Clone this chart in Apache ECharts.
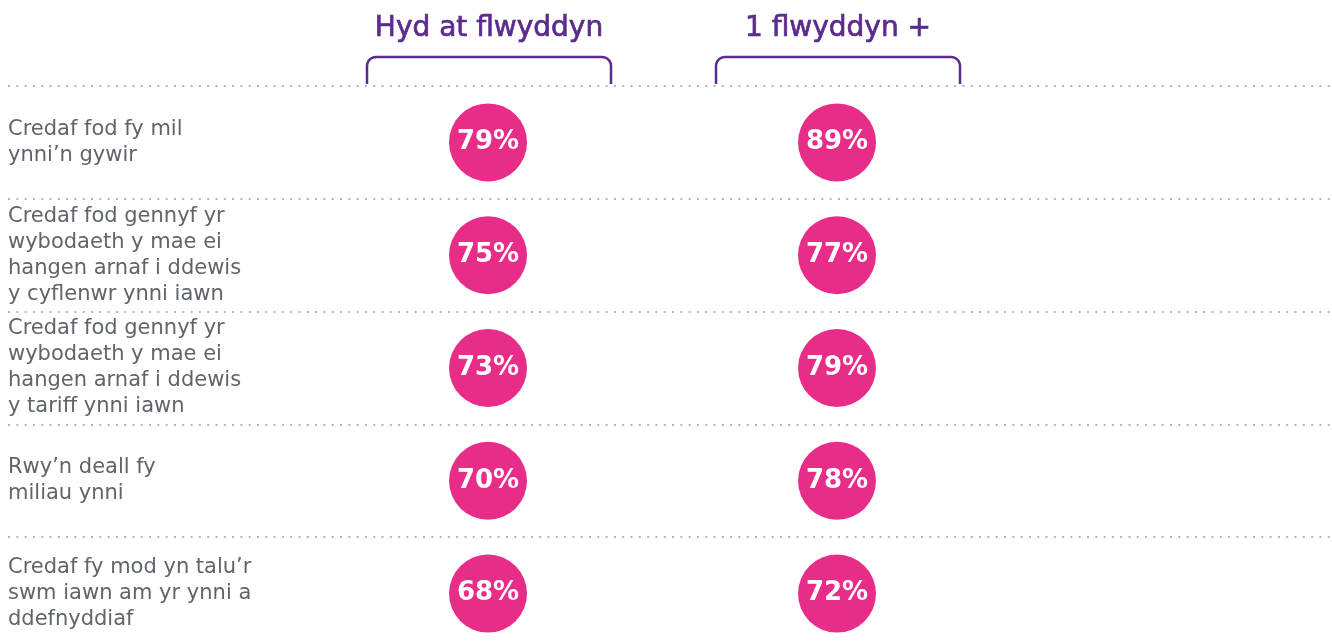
<!DOCTYPE html>
<html>
<head>
<meta charset="utf-8">
<script src="https://cdn.jsdelivr.net/npm/echarts@6/dist/echarts.min.js"></script>
<style>
html,body{margin:0;padding:0;background:#fff;overflow:hidden;}
#chart{width:1332px;height:650px;}
</style>
</head>
<body>
<div id="chart"></div>
<script>
const rowLabels = [
  "Credaf fod fy mil\nynni\u2019n gywir",
  "Credaf fod gennyf yr\nwybodaeth y mae ei\nhangen arnaf i ddewis\ny cyflenwr ynni iawn",
  "Credaf fod gennyf yr\nwybodaeth y mae ei\nhangen arnaf i ddewis\ny tariff ynni iawn",
  "Rwy\u2019n deall fy\nmiliau ynni",
  "Credaf fy mod yn talu\u2019r\nswm iawn am yr ynni a\nddefnyddiaf"
];
const columns = ["Hyd at flwyddyn", "1 flwyddyn +"];
const upToOneYear = [79, 75, 73, 70, 68];
const oneYearPlus = [89, 77, 79, 78, 72];
const seriesValues = [upToOneYear, oneYearPlus];

const PINK = '#E72D87';
const PURPLE = '#5B2B8E';

const chart = echarts.init(document.getElementById('chart'), null, {renderer: 'canvas'});

const option = {
  animation: false,
  backgroundColor: '#ffffff',
  grid: {left: 8, right: 0, top: 86, bottom: 0, containLabel: false},
  xAxis: {
    type: 'value', min: -1.3754, max: 2.4183, show: false
  },
  yAxis: {
    type: 'category', data: rowLabels, inverse: true,
    axisLine: {show: false}, axisTick: {show: false},
    axisLabel: {
      inside: true, margin: 0, align: 'left', interval: 0,
      color: '#5f656b', fontSize: 21, lineHeight: 26,
      fontFamily: 'DejaVu Sans'
    },
    splitLine: {
      show: true, interval: 0,
      lineStyle: {color: '#b4b4b4', width: 2, type: [2, 6.3]}
    }
  },
  series: seriesValues.map((vals, i) => ({
    type: 'scatter',
    name: columns[i],
    symbol: 'circle',
    symbolSize: 78,
    itemStyle: {color: PINK, opacity: 1},
    label: {
      show: true, position: 'inside',
      formatter: p => p.value[2] + '%',
      color: '#ffffff', fontSize: 26, fontWeight: 'bold',
      fontFamily: 'DejaVu Sans'
    },
    data: vals.map((v, j) => [i, rowLabels[j], v])
  }))
};
chart.setOption(option);

function bracketPoints(cx, hw, top, bottom, r) {
  const pts = [[cx - hw, bottom], [cx - hw, top + r]];
  for (let k = 1; k < 8; k++) {
    const a = Math.PI + (k / 8) * (Math.PI / 2);
    pts.push([cx - hw + r + r * Math.cos(a), top + r + r * Math.sin(a)]);
  }
  pts.push([cx - hw + r, top]);
  pts.push([cx + hw - r, top]);
  for (let k = 1; k < 8; k++) {
    const a = 1.5 * Math.PI + (k / 8) * (Math.PI / 2);
    pts.push([cx + hw - r + r * Math.cos(a), top + r + r * Math.sin(a)]);
  }
  pts.push([cx + hw, top + r]);
  pts.push([cx + hw, bottom]);
  return pts;
}

const graphics = [];
columns.forEach((name, i) => {
  const cx = chart.convertToPixel({xAxisIndex: 0}, i);
  graphics.push({
    type: 'text',
    x: cx + 1, y: 29,
    style: {
      text: name, fill: PURPLE, stroke: PURPLE, lineWidth: 0.7,
      fontSize: 28, fontFamily: 'DejaVu Sans',
      align: 'center', verticalAlign: 'middle'
    }
  });
  graphics.push({
    type: 'polyline',
    shape: {points: bracketPoints(cx + 1, 122, 57, 84, 9)},
    style: {fill: null, stroke: PURPLE, lineWidth: 2.5}
  });
});
chart.setOption({graphic: graphics});
</script>
</body>
</html>
